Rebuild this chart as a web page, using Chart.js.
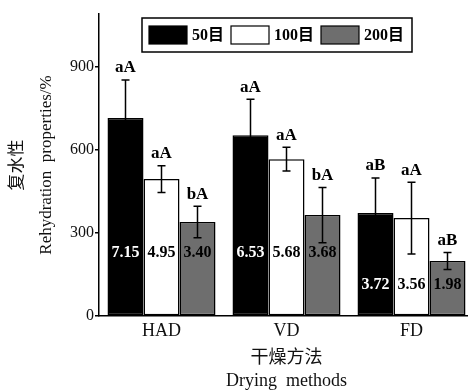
<!DOCTYPE html>
<html>
<head>
<meta charset="utf-8">
<script src="https://cdn.jsdelivr.net/npm/chart.js@4/dist/chart.umd.min.js"></script>
<style>
  html, body { margin: 0; padding: 0; background: #fff; overflow: hidden; }
  #wrap { width: 480px; height: 391px; }
</style>
</head>
<body>
<div id="wrap"><canvas id="chart" width="480" height="391"></canvas></div>
<script>
// drying methods on the x axis
const methods = ['HAD', 'VD', 'FD'];
// mesh sizes (series)
const meshLabels = ['50目', '100目', '200目'];

// rehydration properties /%
const mesh50 = [716, 654, 372];
const mesh100 = [495, 567, 354];
const mesh200 = [340, 365, 199];

// standard deviation (error bar half length)
const err50 = [137, 130, 127];
const err100 = [48, 43, 130];
const err200 = [57, 100, 31];

// significance letters above the bars
const sig50 = ['aA', 'aA', 'aB'];
const sig100 = ['aA', 'aA', 'aA'];
const sig200 = ['bA', 'bA', 'aB'];

// rehydration ratio printed inside the bars
const ratio50 = ['7.15', '6.53', '3.72'];
const ratio100 = ['4.95', '5.68', '3.56'];
const ratio200 = ['3.40', '3.68', '1.98'];

const yTicks = [0, 300, 600, 900];

const serif = "'Liberation Serif', 'Times New Roman', 'Noto Sans CJK SC', serif";

const errs = [err50, err100, err200];
const sigs = [sig50, sig100, sig200];
const ratios = [ratio50, ratio100, ratio200];

const barExtras = {
  id: 'barExtras',
  afterDatasetsDraw(chart, args, opts) {
    const ctx = chart.ctx;
    const y = chart.scales.y;
    ctx.save();
    chart.data.datasets.forEach((ds, i) => {
      const meta = chart.getDatasetMeta(i);
      meta.data.forEach((bar, j) => {
        const v = ds.data[j];
        const e = errs[i][j];
        const top = y.getPixelForValue(v + e);
        const bot = y.getPixelForValue(v - e);
        // error bar
        ctx.strokeStyle = '#000';
        ctx.lineWidth = 1.5;
        ctx.beginPath();
        ctx.moveTo(bar.x, top); ctx.lineTo(bar.x, bot);
        ctx.moveTo(bar.x - 4, top); ctx.lineTo(bar.x + 4, top);
        ctx.moveTo(bar.x - 4, bot); ctx.lineTo(bar.x + 4, bot);
        ctx.stroke();
        // letters
        ctx.fillStyle = '#000';
        ctx.font = 'bold 17px ' + serif;
        ctx.textAlign = 'center';
        ctx.textBaseline = 'middle';
        ctx.fillText(sigs[i][j], bar.x, top - 12);
        // ratio inside bar
        ctx.font = 'bold 16px ' + serif;
        ctx.fillStyle = i === 0 ? '#fff' : '#000';
        ctx.fillText(ratios[i][j], bar.x, y.getPixelForValue(opts.valueY[j]));
      });
    });
    ctx.restore();
  }
};

const boxLegend = {
  id: 'boxLegend',
  afterDraw(chart) {
    const ctx = chart.ctx;
    ctx.save();
    ctx.font = 'bold 16px ' + serif;
    ctx.textBaseline = 'middle';
    ctx.textAlign = 'left';
    let x = 149;
    chart.data.datasets.forEach((ds) => {
      ctx.fillStyle = ds.backgroundColor;
      ctx.fillRect(x, 26, 38, 18);
      ctx.strokeStyle = '#000';
      ctx.lineWidth = 1.2;
      ctx.strokeRect(x, 26, 38, 18);
      x += 43;
      ctx.fillStyle = '#000';
      ctx.fillText(ds.label, x, 36);
      x += ctx.measureText(ds.label).width + 7;
    });
    ctx.lineWidth = 1.5;
    ctx.strokeRect(142, 18, 270, 34);
    ctx.restore();
  }
};

new Chart(document.getElementById('chart'), {
  type: 'bar',
  data: {
    labels: methods,
    datasets: [
      { label: meshLabels[0], data: mesh50, backgroundColor: '#000000' },
      { label: meshLabels[1], data: mesh100, backgroundColor: '#ffffff' },
      { label: meshLabels[2], data: mesh200, backgroundColor: '#6e6e6e' }
    ].map(d => Object.assign(d, {
      borderColor: '#000',
      borderWidth: 1.5,
      borderSkipped: false,
      categoryPercentage: 0.864,
      barPercentage: 1
    }))
  },
  options: {
    responsive: false,
    animation: false,
    layout: { padding: { top: 14, right: 6, left: 0, bottom: 0 } },
    plugins: {
      legend: { display: false },
      tooltip: { enabled: false },
      barExtras: { valueY: [230, 230, 112] }
    },
    scales: {
      x: {
        grid: { display: false, drawTicks: false },
        border: { display: true, color: '#000', width: 1.5 },
        ticks: { color: '#111', font: { family: serif, size: 18 }, padding: 4 },
        title: {
          display: true,
          text: ['干燥方法', 'Drying  methods'],
          color: '#111',
          font: { family: serif, size: 18, lineHeight: 1.3 },
          padding: { top: 0, bottom: -2 }
        },
        afterFit: s => { s.height = 75; }
      },
      y: {
        min: 0,
        max: 1092,
        afterBuildTicks: s => { s.ticks = yTicks.map(v => ({ value: v })); },
        grid: { drawOnChartArea: false, drawTicks: true, tickLength: 4, color: '#000', lineWidth: 1.5 },
        border: { display: true, color: '#000', width: 1.5 },
        ticks: { color: '#111', font: { family: serif, size: 16 }, padding: 1 },
        title: {
          display: true,
          text: ['复水性', 'Rehydration  properties/%'],
          color: '#111',
          font: { family: serif, size: 17, lineHeight: 1.65 },
          padding: { top: 4, bottom: 0 }
        },
        afterFit: s => { s.width = 99; }
      }
    }
  },
  plugins: [barExtras, boxLegend]
});
</script>
</body>
</html>
